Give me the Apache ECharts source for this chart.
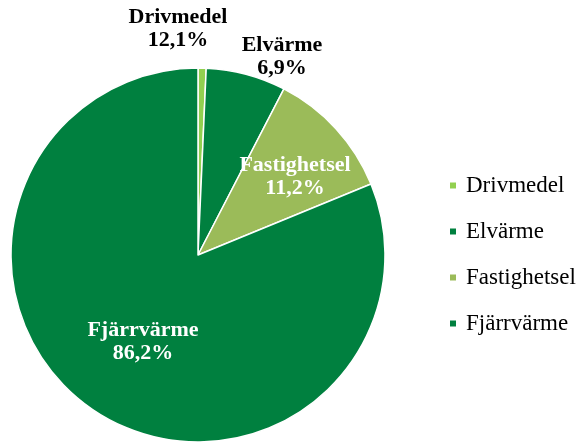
<!DOCTYPE html>
<html>
<head>
<meta charset="utf-8">
<script src="https://cdn.jsdelivr.net/npm/echarts@6/dist/echarts.min.js"></script>
<style>
  html, body { margin: 0; padding: 0; background: #fff; }
  #chart { width: 579px; height: 445px; }
</style>
</head>
<body>
<div id="chart"></div>
<script>
// slice sizes (the printed labels do not add up to 100)
const categories = ['Drivmedel', 'Elvärme', 'Fastighetsel', 'Fjärrvärme'];
const values = [0.7, 6.9, 11.2, 81.2];
const labelTexts = ['12,1%', '6,9%', '11,2%', '86,2%'];
const colors = ['#92D050', '#00803F', '#9BBB59', '#00803F'];

// where each label block sits (centre, px)
const labelPos = [[178, 29], [282, 57], [295, 177], [143, 342]];
const labelColor = ['#000', '#000', '#fff', '#fff'];

const chart = echarts.init(document.getElementById('chart'), null, { renderer: 'canvas' });

const option = {
  animation: false,
  color: colors,
  legend: {
    orient: 'vertical',
    left: 443,
    top: 169,
    itemWidth: 8,
    itemHeight: 8,
    itemGap: 23,
    icon: 'rect',
    textStyle: {
      fontFamily: 'Liberation Serif',
      fontSize: 23,
      lineHeight: 23,
      color: '#000',
      padding: [0, 0, 0, 4]
    },
    data: categories
  },
  series: [
    {
      type: 'pie',
      center: [198, 255],
      radius: 187,
      startAngle: 90,
      clockwise: true,
      itemStyle: { borderColor: '#fff', borderWidth: 1.5 },
      label: {
        position: 'inside',
        fontFamily: 'Liberation Serif',
        fontWeight: 'bold',
        fontSize: 22,
        lineHeight: 23,
        align: 'center'
      },
      labelLine: { show: false },
      labelLayout: function (params) {
        const p = labelPos[params.dataIndex];
        return { x: p[0], y: p[1], align: 'center', verticalAlign: 'middle' };
      },
      emphasis: { disabled: true },
      data: categories.map((name, i) => ({
        name: name,
        value: values[i],
        label: {
          color: labelColor[i],
          formatter: name + '\n' + labelTexts[i]
        }
      }))
    }
  ]
};

chart.setOption(option);
</script>
</body>
</html>
